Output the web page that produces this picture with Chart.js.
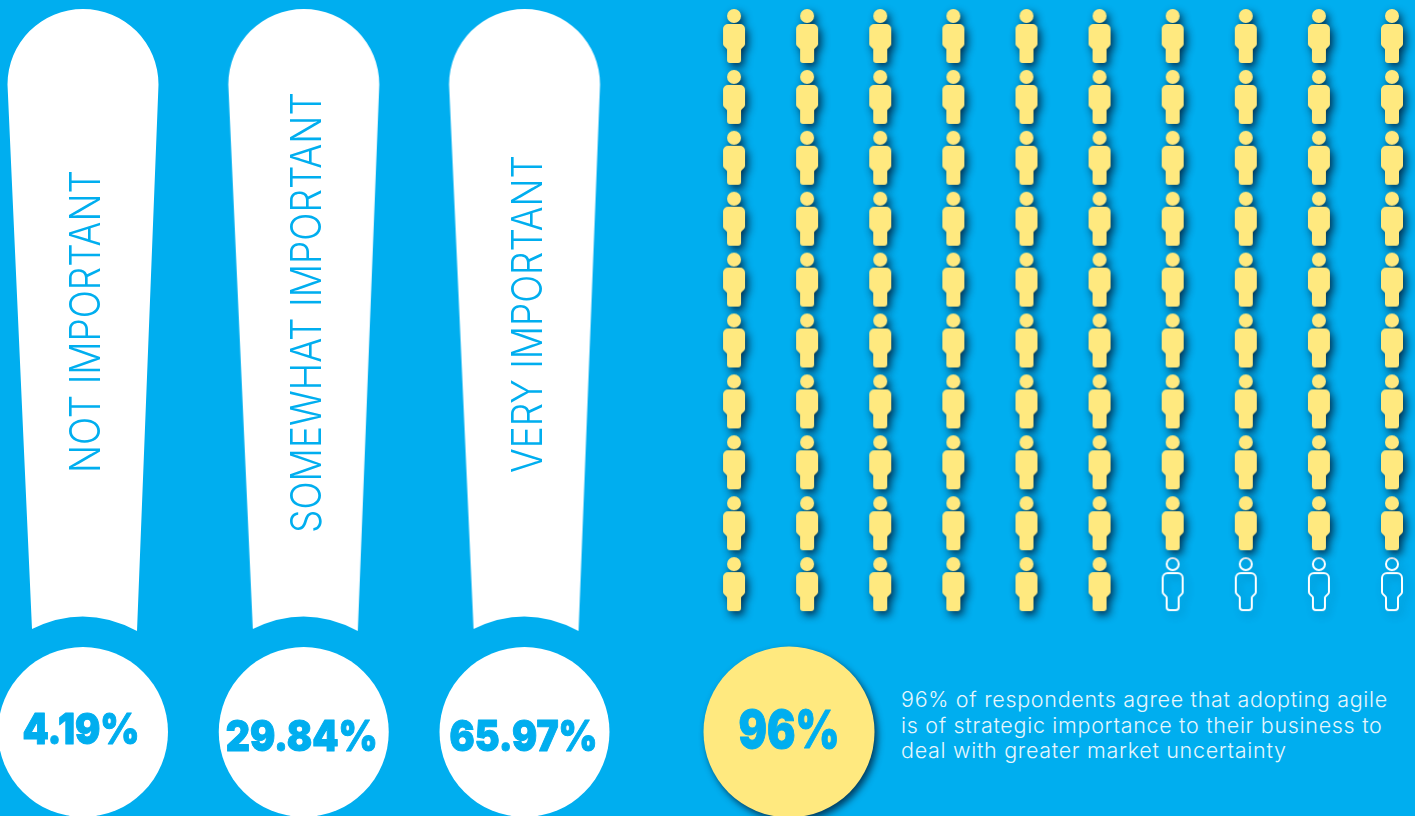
<!DOCTYPE html>
<html lang="en">
<head>
<meta charset="UTF-8">
<title>Agile importance survey</title>
<script src="https://cdn.jsdelivr.net/npm/chart.js"></script>
<style>
    * { margin: 0; padding: 0; box-sizing: border-box; }
    html, body { width: 1415px; height: 816px; overflow: hidden; background: #00aeef; }
    canvas { position: absolute; display: block; }
    #importanceChart { left: 0; top: 0; }
    #peopleChart { left: 690px; top: 0; }
    #calloutChart { left: 689px; top: 632px; }
    #calloutText {
        position: absolute;
        left: 901px;
        top: 687px;
        width: 510px;
        font: 300 21.5px/25.5px Inter, sans-serif;
        letter-spacing: 0.7px;
        color: #e6f6fd;
        white-space: pre-line;
    }
</style>
</head>
<body>
<canvas id="importanceChart" width="690" height="816"></canvas>
<canvas id="peopleChart" width="725" height="640"></canvas>
<canvas id="calloutChart" width="200" height="200"></canvas>
<div id="calloutText"></div>
<script>
    const importanceLabels = ['NOT IMPORTANT', 'SOMEWHAT IMPORTANT', 'VERY IMPORTANT'];
    const importanceValues = [4.19, 29.84, 65.97];
    const agreePercent = 96;
    const peopleColumns = [1, 2, 3, 4, 5, 6, 7, 8, 9, 10];
    const peopleRows = [1, 2, 3, 4, 5, 6, 7, 8, 9, 10];
    const calloutLines = [
        '96% of respondents agree that adopting agile',
        'is of strategic importance to their business to',
        'deal with greater market uncertainty'
    ];

    const BLUE = '#00aeef';
    const YELLOW = '#ffe97f';

    // text fit: [width of the vertical label, its start below the stem centre]
    const verticalLabelFit = [[303, 153], [441, 213], [318, 153]];
    // text fit: [width of the percentage, x shift, baseline below the dot centre]
    const valueLabelFit = [[117, -2, 12], [152, -2, 19], [148, -1, 19]];

    Chart.defaults.animation = false;
    Chart.defaults.responsive = false;
    Chart.defaults.layout.autoPadding = false;
    Chart.defaults.plugins.legend.display = false;
    Chart.defaults.plugins.tooltip.enabled = false;

    function newCanvas(w, h) {
        const c = document.createElement('canvas');
        c.width = w;
        c.height = h;
        return c;
    }

    // exclamation body: round top, tapered sides, bottom follows the dot below it
    function makeStem() {
        const c = newCanvas(170, 640);
        const ctx = c.getContext('2d');
        const cx = 85, r = 75.5;
        ctx.fillStyle = '#ffffff';
        ctx.beginPath();
        ctx.arc(cx, 84.5, r, Math.PI, 0);
        ctx.lineTo(cx + 54, 631);
        ctx.quadraticCurveTo(cx + 2, 603, cx - 51, 629);
        ctx.closePath();
        ctx.fill();
        return c;
    }

    function roundedPoly(ctx, pts) {
        const n = pts.length;
        const start = [(pts[n - 1][0] + pts[0][0]) / 2, (pts[n - 1][1] + pts[0][1]) / 2];
        ctx.moveTo(start[0], start[1]);
        pts.forEach((p, i) => {
            const next = pts[(i + 1) % n];
            ctx.arcTo(p[0], p[1], next[0], next[1], p[2]);
        });
        ctx.closePath();
    }

    // person icon, outline=true gives the hollow one
    function makePerson(outline) {
        const c = newCanvas(56, 84);
        const ctx = c.getContext('2d');
        const i = outline ? 1 : 0;
        ctx.translate(28, 42);
        ctx.shadowColor = outline ? 'rgba(0,60,100,0.3)' : 'rgba(0,40,70,0.95)';
        ctx.shadowBlur = 8;
        ctx.shadowOffsetX = 3;
        ctx.shadowOffsetY = 4;
        ctx.beginPath();
        ctx.arc(0, -20, 7 - i, 0, Math.PI * 2);
        ctx.moveTo(0, -12 + i);
        roundedPoly(ctx, [
            [-11 + i, -12 + i, 5], [11 - i, -12 + i, 5], [11 - i, 9, 3], [7 - i, 13, 2],
            [7 - i, 27 - i, 3], [-7 + i, 27 - i, 3], [-7 + i, 13, 2], [-11 + i, 9, 3]
        ]);
        if (outline) {
            ctx.strokeStyle = '#ffffff';
            ctx.lineWidth = 2;
            ctx.stroke();
        } else {
            ctx.fillStyle = YELLOW;
            ctx.fill();
        }
        return c;
    }

    function makeCalloutDot() {
        const c = newCanvas(200, 200);
        const ctx = c.getContext('2d');
        ctx.shadowColor = 'rgba(0,40,70,0.85)';
        ctx.shadowBlur = 7;
        ctx.shadowOffsetX = 3;
        ctx.shadowOffsetY = 4;
        ctx.fillStyle = YELLOW;
        ctx.beginPath();
        ctx.arc(100, 100, 85.5, 0, Math.PI * 2);
        ctx.fill();
        return c;
    }

    // stretches the text to a set width, heavy=true thickens the glyphs
    function fittedText(ctx, text, x, y, width, heavy) {
        const natural = ctx.measureText(text).width;
        ctx.save();
        ctx.translate(x, y);
        ctx.scale(width / natural, 1);
        ctx.fillText(text, 0, 0);
        if (heavy) {
            ctx.strokeStyle = BLUE;
            ctx.lineWidth = 1;
            ctx.lineJoin = 'round';
            ctx.strokeText(text, 0, 0);
        }
        ctx.restore();
    }

    const importanceTextPlugin = {
        id: 'importanceText',
        afterDatasetsDraw(chart) {
            const ctx = chart.ctx;
            const stems = chart.getDatasetMeta(0).data;
            const dots = chart.getDatasetMeta(1).data;
            ctx.save();
            ctx.fillStyle = BLUE;
            ctx.textAlign = 'left';
            ctx.textBaseline = 'alphabetic';
            importanceLabels.forEach((label, i) => {
                const fit = verticalLabelFit[i];
                ctx.save();
                ctx.translate(stems[i].x + 17, stems[i].y + fit[1]);
                ctx.rotate(-Math.PI / 2);
                ctx.font = '350 42px Inter, sans-serif';
                fittedText(ctx, label, 0, 0, fit[0]);
                ctx.restore();
            });
            importanceValues.forEach((value, i) => {
                const fit = valueLabelFit[i];
                const text = value + '%';
                ctx.font = '900 42px Inter, sans-serif';
                fittedText(ctx, text, dots[i].x + fit[1] - fit[0] / 2, dots[i].y + fit[2], fit[0], true);
            });
            ctx.restore();
        }
    };

    new Chart(document.getElementById('importanceChart'), {
        type: 'scatter',
        data: {
            datasets: [
                {
                    label: 'Stem',
                    data: importanceValues.map((v, i) => ({ x: i, y: 1 })),
                    pointStyle: makeStem(),
                    pointRadius: 10,
                    clip: false
                },
                {
                    label: 'Share',
                    data: importanceValues.map((v, i) => ({ x: i, y: 0 })),
                    pointRadius: 85,
                    pointBackgroundColor: '#ffffff',
                    pointBorderWidth: 0,
                    clip: false
                }
            ]
        },
        options: {
            scales: {
                x: { type: 'linear', display: false, min: -0.376, max: 2.7497 },
                y: { type: 'linear', display: false, min: -0.2039, max: 1.7767 }
            }
        },
        plugins: [importanceTextPlugin]
    });

    // one icon per percentage point, filled row by row from the top
    const peoplePoints = [];
    peopleRows.forEach(row => peopleColumns.forEach(col => peoplePoints.push({ x: col, y: row })));

    new Chart(document.getElementById('peopleChart'), {
        type: 'scatter',
        data: {
            datasets: [
                {
                    label: 'Agree',
                    data: peoplePoints.slice(0, agreePercent),
                    pointStyle: makePerson(false),
                    pointRadius: 10,
                    clip: false
                },
                {
                    label: 'Rest',
                    data: peoplePoints.slice(agreePercent),
                    pointStyle: makePerson(true),
                    pointRadius: 10,
                    clip: false
                }
            ]
        },
        options: {
            scales: {
                x: { type: 'linear', display: false, min: 0.398, max: 10.3146 },
                y: { type: 'linear', display: false, reverse: true, min: 0.409, max: 10.918 }
            }
        }
    });

    const calloutTextPlugin = {
        id: 'calloutValue',
        afterDatasetsDraw(chart) {
            const ctx = chart.ctx;
            const p = chart.getDatasetMeta(0).data[0];
            ctx.save();
            ctx.fillStyle = BLUE;
            ctx.textBaseline = 'alphabetic';
            ctx.font = '900 52px Inter, sans-serif';
            fittedText(ctx, agreePercent + '%', p.x - 50.5, p.y + 16, 101, true);
            ctx.restore();
        }
    };

    new Chart(document.getElementById('calloutChart'), {
        type: 'scatter',
        data: {
            datasets: [{
                label: 'Agree share',
                data: [{ x: 0, y: 0 }],
                pointStyle: makeCalloutDot(),
                pointRadius: 10,
                clip: false
            }]
        },
        options: {
            scales: {
                x: { type: 'linear', display: false, min: -1, max: 1 },
                y: { type: 'linear', display: false, min: -1, max: 1 }
            }
        },
        plugins: [calloutTextPlugin]
    });

    document.getElementById('calloutText').textContent = calloutLines.join('\n');
</script>
</body>
</html>
